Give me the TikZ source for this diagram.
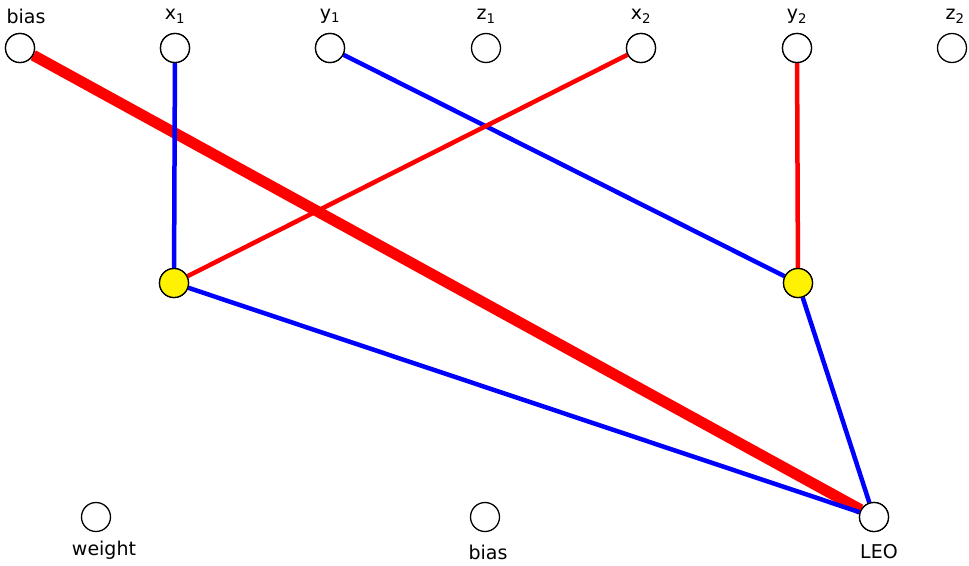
\documentclass[tikz,border=0pt]{standalone}
\usepackage{fontspec}
\setmainfont{DejaVu Sans}
\begin{document}
\begin{tikzpicture}[x=1pt,y=-1pt,
  neuron/.style={circle,draw=black,line width=1.3pt,fill=white,minimum size=29pt,inner sep=0pt},
  hidden/.style={neuron,fill=yellow},
  lbl/.style={font=\fontsize{19}{22}\selectfont,inner sep=0pt},
  blueedge/.style={blue,line width=4.5pt},
  rededge/.style={red,line width=4.5pt}]
\useasboundingbox (0,0) rectangle (969,565);
\node[neuron] (bias) at (20,48) {};
\node[neuron] (x1) at (175,48) {};
\node[neuron] (y1) at (330,48) {};
\node[neuron] (z1) at (486,48) {};
\node[neuron] (x2) at (641,48) {};
\node[neuron] (y2) at (797,48) {};
\node[neuron] (z2) at (952,48) {};
\node[hidden] (h1) at (174,283) {};
\node[hidden] (h2) at (798,283) {};
\node[neuron] (w) at (96,517) {};
\node[neuron] (b2) at (485,517) {};
\node[neuron] (leo) at (874,517) {};
\node[lbl] (lbias) at (26,16) {bias};
\node[lbl] (lx1) at (175,16) {x\textsubscript{1}};
\node[lbl] (ly1) at (330,16) {y\textsubscript{1}};
\node[lbl] (lz1) at (486,16) {z\textsubscript{1}};
\node[lbl] (lx2) at (641,16) {x\textsubscript{2}};
\node[lbl] (ly2) at (797,16) {y\textsubscript{2}};
\node[lbl] (lz2) at (955,16) {z\textsubscript{2}};
\node[lbl] (lw) at (104,550) {weight};
\node[lbl] (lb2) at (488,552) {bias};
\node[lbl] (lleo) at (879,552) {LEO};
\begin{scope}[on background layer/.style={}]
\end{scope}
\draw[red,line width=11pt] (bias) -- (leo);
\draw[blueedge] (x1) -- (h1);
\draw[blueedge] (y1) -- (h2);
\draw[rededge] (x2) -- (h1);
\draw[rededge] (y2) -- (h2);
\draw[blueedge] (h1) -- (leo);
\draw[blueedge] (h2) -- (leo);
\foreach \n in {bias,x1,y1,x2,y2,leo}{\node[neuron] at (\n) {};}
\foreach \n in {h1,h2}{\node[hidden] at (\n) {};}
\end{tikzpicture}
\end{document}
